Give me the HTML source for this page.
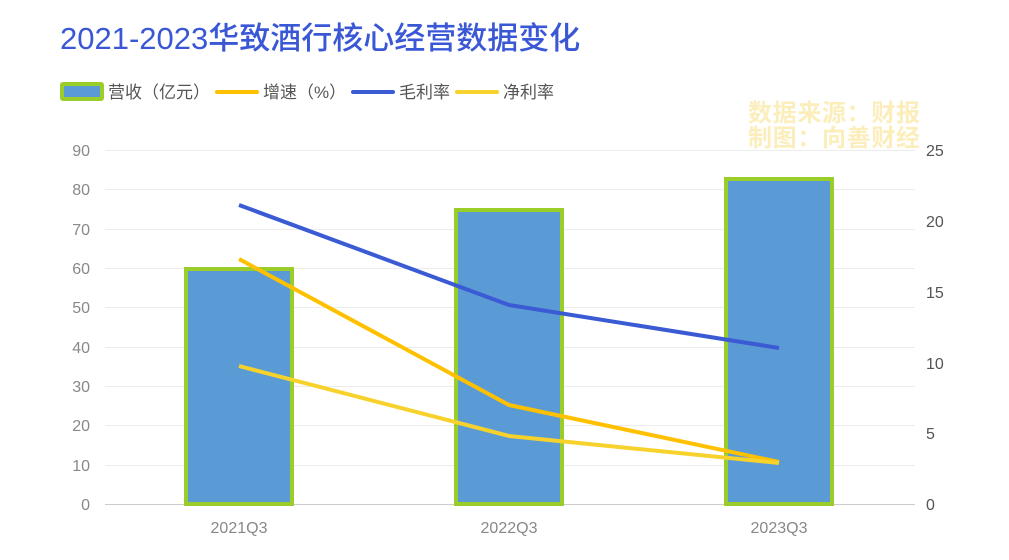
<!DOCTYPE html><html><head><meta charset="utf-8"><style>body{margin:0;background:#fff}svg{display:block}text{font-family:"Liberation Sans","Noto Sans CJK SC",sans-serif}</style></head><body>
<svg width="1009" height="560" xmlns="http://www.w3.org/2000/svg">
<text x="60" y="49" font-size="31" fill="#3a57d6" font-weight="500">2021-2023华致酒行核心经营数据变化</text>
<rect x="62" y="84" width="40" height="15" fill="#5b9bd5" stroke="#9acd2a" stroke-width="4" rx="1"/>
<text x="108" y="98" font-size="17" fill="#555">营收（亿元）</text>
<line x1="217" y1="92" x2="257" y2="92" stroke="#ffc000" stroke-width="4" stroke-linecap="round"/>
<text x="263" y="98" font-size="17" fill="#555">增速（%）</text>
<line x1="353" y1="92" x2="393" y2="92" stroke="#3a5bd4" stroke-width="4" stroke-linecap="round"/>
<text x="399" y="98" font-size="17" fill="#555">毛利率</text>
<line x1="457" y1="92" x2="497" y2="92" stroke="#f7d22c" stroke-width="4" stroke-linecap="round"/>
<text x="503" y="98" font-size="17" fill="#555">净利率</text>
<text x="748" y="121" font-size="24" font-weight="bold" fill="#fbeebb" textLength="172">数据来源：财报</text>
<text x="748" y="146" font-size="24" font-weight="bold" fill="#fbeebb" textLength="172">制图：向善财经</text>
<g stroke="#ececec" stroke-width="1">
<line x1="105" y1="150.5" x2="915" y2="150.5"/><line x1="105" y1="189.5" x2="915" y2="189.5"/><line x1="105" y1="229.5" x2="915" y2="229.5"/><line x1="105" y1="268.5" x2="915" y2="268.5"/><line x1="105" y1="307.5" x2="915" y2="307.5"/><line x1="105" y1="347.5" x2="915" y2="347.5"/><line x1="105" y1="386.5" x2="915" y2="386.5"/><line x1="105" y1="425.5" x2="915" y2="425.5"/><line x1="105" y1="465.5" x2="915" y2="465.5"/>
</g>
<line x1="105" y1="504.5" x2="915" y2="504.5" stroke="#ccc"/>
<g font-size="16" fill="#888" text-anchor="end">
<text x="90" y="156">90</text><text x="90" y="195">80</text><text x="90" y="235">70</text><text x="90" y="274">60</text><text x="90" y="313">50</text><text x="90" y="353">40</text><text x="90" y="392">30</text><text x="90" y="431">20</text><text x="90" y="471">10</text><text x="90" y="510">0</text>
</g>
<g font-size="16" fill="#555">
<text x="926" y="156">25</text><text x="926" y="227">20</text><text x="926" y="298">15</text><text x="926" y="369">10</text><text x="926" y="439">5</text><text x="926" y="510">0</text>
</g>
<g font-size="16" fill="#888" text-anchor="middle">
<text x="239" y="533">2021Q3</text><text x="509" y="533">2022Q3</text><text x="779" y="533">2023Q3</text>
</g>
<g fill="#5b9bd5" stroke="#9acd2a" stroke-width="4">
<rect x="186" y="269" width="106" height="235"/>
<rect x="456" y="210" width="106" height="294"/>
<rect x="726" y="179" width="106" height="325"/>
</g>
<g fill="none" stroke-width="4" stroke-linejoin="round">
<polyline points="239,205 509,305 779,348" stroke="#3a5bd4"/>
<polyline points="239,259 509,405 779,462" stroke="#ffc000"/>
<polyline points="239,366 509,436 779,463" stroke="#f7d22c"/>
</g>
</svg></body></html>
